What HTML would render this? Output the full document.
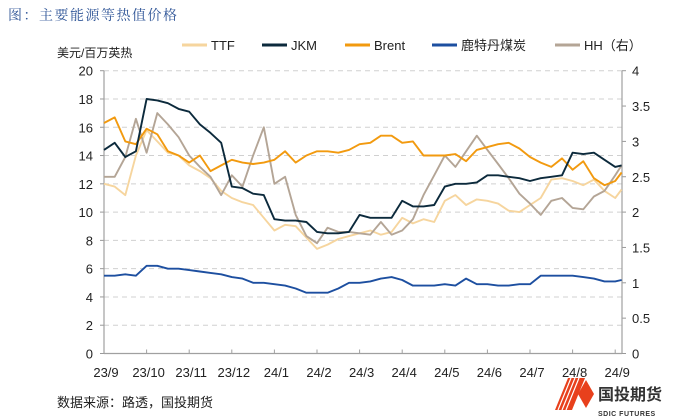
<!DOCTYPE html>
<html><head><meta charset="utf-8">
<style>
body{margin:0;background:#fff;}
svg{display:block;font-family:"Liberation Sans","Noto Sans CJK SC",sans-serif;}
</style></head>
<body>
<svg id="chart" width="676" height="418" viewBox="0 0 676 418" xmlns="http://www.w3.org/2000/svg">
<text x="8" y="20" font-size="14" fill="#2f5597" font-family="'Liberation Serif','Noto Serif CJK SC',serif" letter-spacing="1.5">图：主要能源等热值价格</text>
<text x="57" y="57" font-size="12" fill="#222">美元/百万英热</text>
<g id="legend"></g>
<g id="grid"></g>
<g id="axes"></g>
<g id="series"></g>
<text x="57" y="407" font-size="13" fill="#222">数据来源：路透，国投期货</text>
<g>
<polygon points="555,410 568,378 585,378 572,410" fill="#e8401c"/>
<g stroke="#fff" stroke-width="1.2"><line x1="558" y1="410" x2="571" y2="378"/><line x1="562" y1="410" x2="575" y2="378"/><line x1="566" y1="410" x2="579" y2="378"/></g>
<polygon points="578,394 586,380 594,394 586,408" fill="#e8401c"/>
<text x="598" y="400" font-size="16" font-weight="bold" fill="#333">国投期货</text>
<text x="598" y="416" font-size="7" font-weight="bold" fill="#333" letter-spacing="0.5">SDIC FUTURES</text>
</g>
</svg>
<script>
const months = ["23/9","23/10","23/11","23/12","24/1","24/2","24/3","24/4","24/5","24/6","24/7","24/8","24/9"];
const leftTicks = [0,2,4,6,8,10,12,14,16,18,20];
const rightTicks = ["0","0.5","1","1.5","2","2.5","3","3.5","4"];
const dates = [0,0.25,0.5,0.75,1,1.25,1.5,1.75,2,2.25,2.5,2.75,3,3.25,3.5,3.75,4,4.25,4.5,4.75,5,5.25,5.5,5.75,6,6.25,6.5,6.75,7,7.25,7.5,7.75,8,8.25,8.5,8.75,9,9.25,9.5,9.75,10,10.25,10.5,10.75,11,11.25,11.5,11.75,12,12.15];
const ttf = [12.0,11.8,11.2,14.0,15.8,15.0,14.2,14.0,13.3,12.9,12.4,11.5,11.0,10.7,10.5,9.6,8.7,9.1,9.0,8.2,7.4,7.7,8.1,8.3,8.5,8.7,8.4,8.6,9.6,9.2,9.5,9.3,10.8,11.2,10.5,10.9,10.8,10.6,10.1,10.0,10.5,11.0,12.3,12.4,12.2,11.9,12.3,11.5,11.0,11.6];
const jkm = [14.4,14.9,13.9,14.3,18.0,17.9,17.7,17.3,17.1,16.2,15.6,14.9,11.8,11.7,11.3,11.2,9.5,9.4,9.4,9.3,8.6,8.5,8.5,8.6,9.8,9.6,9.6,9.6,10.8,10.4,10.4,10.5,11.8,12.0,12.0,12.1,12.6,12.6,12.5,12.4,12.2,12.4,12.5,12.6,14.2,14.1,14.2,13.7,13.2,13.3];
const brent = [16.3,16.7,15.0,14.8,15.9,15.5,14.3,14.0,13.5,14.0,12.9,13.3,13.7,13.5,13.4,13.5,13.7,14.3,13.5,14.0,14.3,14.3,14.2,14.4,14.8,14.9,15.4,15.4,14.9,15.0,14.0,14.0,14.0,14.1,13.6,14.4,14.6,14.8,14.9,14.5,13.9,13.5,13.2,13.8,13.0,13.6,12.4,11.9,12.2,12.8];
const coal = [5.5,5.5,5.6,5.5,6.2,6.2,6.0,6.0,5.9,5.8,5.7,5.6,5.4,5.3,5.0,5.0,4.9,4.8,4.6,4.3,4.3,4.3,4.6,5.0,5.0,5.1,5.3,5.4,5.2,4.8,4.8,4.8,4.9,4.8,5.3,4.9,4.9,4.8,4.8,4.9,4.9,5.5,5.5,5.5,5.5,5.4,5.3,5.1,5.1,5.2];
const hh = [2.5,2.5,2.78,3.32,2.84,3.4,3.24,3.06,2.8,2.64,2.5,2.24,2.52,2.36,2.8,3.2,2.4,2.5,1.96,1.66,1.56,1.78,1.72,1.72,1.7,1.68,1.86,1.68,1.74,1.9,2.24,2.52,2.8,2.64,2.86,3.08,2.88,2.68,2.48,2.26,2.12,1.96,2.16,2.2,2.06,2.04,2.22,2.3,2.52,2.66];

const NS="http://www.w3.org/2000/svg";
const X0=104, X1=622, Y0=353.5, Ytop=70.7;
const xScale = m => X0 + m*42.6;
const yL = v => Y0 - v*(Y0-Ytop)/20;
const yR = v => Y0 - v*(Y0-Ytop)/4;
function mk(tag, attrs, parent){const e=document.createElementNS(NS,tag);for(const k in attrs)e.setAttribute(k,attrs[k]);parent.appendChild(e);return e;}
const grid=document.getElementById('grid'), axes=document.getElementById('axes'), series=document.getElementById('series'), legend=document.getElementById('legend');

leftTicks.forEach(v=>{
  if(v>0){const g=mk('line',{x1:X0,x2:X1,y1:yL(v),y2:yL(v),stroke:'#d0d0d0','stroke-width':1,'stroke-dasharray':'5,4'},grid);
  
  }
  const t=mk('text',{x:93,y:yL(v)+5,'font-size':13,fill:'#222','text-anchor':'end'},axes);t.textContent=v;
  
  
  mk('line',{x1:X0-4,x2:X0,y1:yL(v),y2:yL(v),stroke:'#999'},axes);
});
rightTicks.forEach(s=>{
  const v=parseFloat(s);
  const t=mk('text',{x:632,y:yR(v)+5,'font-size':13,fill:'#222'},axes);t.textContent=s;
  
  
  mk('line',{x1:X1,x2:X1+4,y1:yR(v),y2:yR(v),stroke:'#999'},axes);
});
let a=mk('line',{x1:X0,x2:X0,y1:Ytop,y2:Y0,stroke:'#a0a0a0','stroke-width':1.2},axes);


a=mk('line',{x1:X1,x2:X1,y1:Ytop,y2:Y0,stroke:'#a0a0a0','stroke-width':1.2},axes);


a=mk('line',{x1:X0,x2:X1,y1:Y0,y2:Y0,stroke:'#a0a0a0','stroke-width':1.2},axes);


months.forEach((m,i)=>{
  const x=xScale(i);
  mk('line',{x1:x,x2:x,y1:Y0,y2:Y0-4,stroke:'#a0a0a0'},axes);
  const t=mk('text',{x:x+2,y:377,'font-size':13,fill:'#222','text-anchor':'middle'},axes);t.textContent=m;
  
  
});

const defs=[
 {name:'TTF',data:ttf,color:'#f6d59e',y:yL,lx:182},
 {name:'JKM',data:jkm,color:'#0c2a3c',y:yL,lx:262},
 {name:'Brent',data:brent,color:'#f29a0f',y:yL,lx:345},
 {name:'鹿特丹煤炭',data:coal,color:'#1d4fa0',y:yL,lx:432},
 {name:'HH（右）',data:hh,color:'#b4a596',y:yR,lx:555}
];
const order=[0,4,2,3,1];
order.forEach(i=>{
  const d=defs[i];
  const pts=d.data.map((v,j)=>xScale(dates[j]).toFixed(1)+','+d.y(v).toFixed(1)).join(' ');
  const p=mk('polyline',{points:pts,fill:'none',stroke:d.color,'stroke-width':1.9,'stroke-linejoin':'round'},series);
  
  
});
defs.forEach(d=>{
  const g=mk('g',{},legend);
  
  
  mk('line',{x1:d.lx,x2:d.lx+25,y1:45,y2:45,stroke:d.color,'stroke-width':3},g);
  const t=mk('text',{x:d.lx+29,y:50,'font-size':13,fill:'#222'},g);t.textContent=d.name;
});
</script>
</body></html>
